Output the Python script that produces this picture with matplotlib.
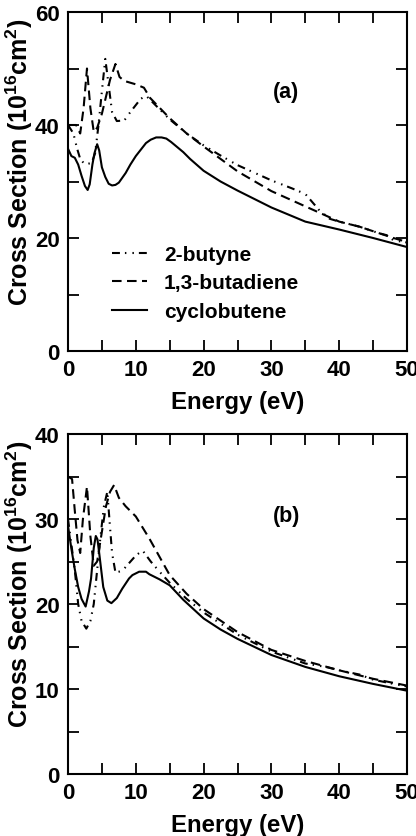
import matplotlib
matplotlib.use("Agg")
import matplotlib.pyplot as plt
from matplotlib.ticker import MultipleLocator

plt.rcParams['font.family'] = ['Liberation Sans', 'DejaVu Sans']
plt.rcParams['font.weight'] = 'bold'
plt.rcParams['mathtext.fontset'] = 'custom'
plt.rcParams['mathtext.bf'] = 'Liberation Sans:bold'
plt.rcParams['mathtext.rm'] = 'Liberation Sans:bold'

# ---------------- Panel (a) data ----------------
a_cyclo_E = [0, 0.5, 1, 1.5, 2, 2.5, 2.9, 3.2, 3.6, 3.9, 4.3, 4.6, 5.0, 5.5, 6.0, 6.5, 7.0, 7.5, 8.5, 9.2, 10,
             11.5, 12.2, 13, 13.8, 14.5, 15.2, 16, 17, 18, 20, 22.5, 25, 30, 35, 40, 45, 50]
a_cyclo_S = [35.8, 34.5, 34.2, 33.0, 31.0, 29.2, 28.5, 29.5, 33.0, 35.0, 36.6, 35.5, 32.5, 30.8, 29.6, 29.3, 29.4, 29.8, 31.5, 33.0, 34.5,
             36.8, 37.4, 37.8, 37.8, 37.6, 37.0, 36.2, 35.2, 34.0, 31.9, 30.0, 28.4, 25.4, 22.9, 21.5, 20.0, 18.4]

a_buta_E = [0, 1.2, 1.8, 2.3, 2.8, 3.3, 3.8, 4.3, 5.0, 5.6, 6.2, 7.0, 7.6, 8.3, 10, 11.2,
            12.1, 15, 17.5, 20, 22.5, 25, 30, 35, 37.6, 40, 43, 46, 48, 50]
a_buta_S = [40.0, 40.0, 38.5, 43.0, 50.0, 43.0, 38.8, 39.5, 42.0, 45.0, 48.0, 50.8, 48.5, 47.8, 47.2, 46.6,
            44.8, 41.2, 38.5, 36.2, 34.0, 31.8, 28.3, 25.6, 24.2, 22.9, 22.0, 20.8, 20.0, 19.3]

a_buty_E = [0, 0.8, 1.3, 1.8, 2.5, 3.5, 4.0, 4.5, 5.0, 5.5, 6.0, 6.5, 7.2, 8.3, 9.2, 10.7,
            11.5, 12.5, 15, 17.5, 20, 22.5, 25, 30, 33, 35, 37, 38.6, 40, 43, 46, 47, 48, 50]
a_buty_S = [40.0, 38.5, 36.0, 34.0, 33.0, 33.3, 35.0, 40.0, 46.0, 51.7, 47.0, 42.3, 40.7, 40.8, 42.3, 44.6,
            45.2, 44.0, 41.0, 38.5, 36.4, 34.6, 32.9, 30.2, 28.8, 27.8, 25.0, 23.4, 22.9, 22.0, 20.8, 20.5, 19.6, 19.2]

# ---------------- Panel (b) data ----------------
b_cyclo_E = [0, 0.5, 1, 1.5, 2, 2.6, 3.1, 3.4, 3.8, 4.1, 4.35, 4.6, 5.2, 5.8, 6.4, 7.2, 8, 9, 9.5, 10.5,
             11.5, 12, 13.5, 15, 17, 20, 22.5, 25, 30, 35, 40, 45, 50]
b_cyclo_S = [29.2, 26.5, 24.1, 22.0, 20.6, 19.7, 21.5, 23.0, 26.6, 28.0, 27.6, 26.0, 22.0, 20.4, 20.1, 20.7, 21.8, 23.0, 23.4, 23.8,
             23.8, 23.5, 22.9, 22.2, 20.5, 18.3, 17.0, 15.9, 14.0, 12.6, 11.5, 10.6, 9.8]

b_buta_E = [0, 0.6, 1.0, 1.4, 1.8, 2.2, 2.8, 3.3, 3.8, 4.3, 5.0, 5.6, 6.2, 6.8, 7.5, 8.5, 10,
            12, 15, 17.5, 20, 25, 30, 35, 40, 45, 50]
b_buta_S = [35.0, 34.7, 31.0, 27.5, 26.0, 30.0, 33.8, 28.0, 24.5, 25.0, 28.5, 31.5, 33.2, 34.0, 32.5, 31.5, 30.3,
            27.7, 23.4, 21.2, 19.4, 16.7, 14.6, 13.3, 12.2, 11.2, 10.4]

b_buty_E = [0, 0.5, 1, 1.5, 2, 2.7, 3.3, 3.8, 4.3, 4.8, 5.3, 5.8, 6.2, 6.5, 7.0, 8, 9, 10, 11.0,
            12.2, 13.5, 15, 17.5, 20, 25, 30, 35, 38, 40, 43, 45, 48, 50]
b_buty_S = [30.0, 27.0, 24.0, 20.0, 18.0, 17.1, 18.0, 20.0, 24.0, 28.0, 31.5, 33.2, 29.0, 26.0, 23.7, 23.9, 24.8, 25.7, 26.3,
            25.0, 23.8, 22.5, 20.6, 19.0, 16.4, 14.4, 13.0, 12.6, 12.2, 11.7, 11.1, 10.6, 10.3]

labels = ['2-butyne', '1,3-butadiene', 'cyclobutene']

LW = 1.5
dashdotdot = (0, (3.8, 2.4, 0.7, 2.9, 0.7, 2.4))
dashed = (0, (4.6, 2.6))

fig = plt.figure(figsize=(4.16, 8.37), dpi=100)
axA = fig.add_axes([68/416, 1-352/837, 339/416, 339/837])
axB = fig.add_axes([68/416, 1-775/837, 339/416, 340/837])

panels = [
    (axA, a_buty_E, a_buty_S, a_buta_E, a_buta_S, a_cyclo_E, a_cyclo_S, 60, 20, 10, '(a)', 46),
    (axB, b_buty_E, b_buty_S, b_buta_E, b_buta_S, b_cyclo_E, b_cyclo_S, 40, 10, 5, '(b)', 30.4),
]

for ax, e1, s1, e2, s2, e3, s3, ymax, ymaj, ymin, tag, tagy in panels:
    l1, = ax.plot(e1, s1, color='black', lw=LW, linestyle=dashdotdot)
    l2, = ax.plot(e2, s2, color='black', lw=LW, linestyle=dashed)
    l3, = ax.plot(e3, s3, color='black', lw=LW, linestyle='-')
    ax.set_xlim(0, 50)
    ax.set_ylim(0, ymax)
    ax.xaxis.set_major_locator(MultipleLocator(10))
    ax.xaxis.set_minor_locator(MultipleLocator(5))
    ax.yaxis.set_major_locator(MultipleLocator(ymaj))
    ax.yaxis.set_minor_locator(MultipleLocator(ymin))
    ax.tick_params(which='both', direction='in', top=True, right=True, width=1.3,
                   labelsize=16, pad=6)
    ax.tick_params(which='major', length=8)
    ax.tick_params(which='minor', length=8)
    for sp in ax.spines.values():
        sp.set_linewidth(1.5)
    for lab in ax.get_xticklabels() + ax.get_yticklabels():
        lab.set_fontweight('bold')
    ax.set_xlabel('Energy (eV)', fontsize=17.3, fontweight='bold', labelpad=7)
    ax.set_ylabel(r'Cross Section (10$^{\mathbf{16}}$cm$^{\mathbf{2}}$)', fontsize=18,
                  fontweight='bold', labelpad=0, y=0.56)
    ax.text(32.2, tagy, tag, fontsize=15.5, fontweight='bold', ha='center', va='center')
    if tag == '(a)':
        leg = ax.legend([l1, l2, l3], labels, loc='center left',
                        bbox_to_anchor=((112-68)/339, (352-284)/339),
                        frameon=False, fontsize=15, handlelength=1.7, handletextpad=0.8,
                        labelspacing=0.45, borderpad=0, borderaxespad=0)
        for t in leg.get_texts():
            t.set_fontweight('bold')

fig.savefig('out.png', dpi=100)
